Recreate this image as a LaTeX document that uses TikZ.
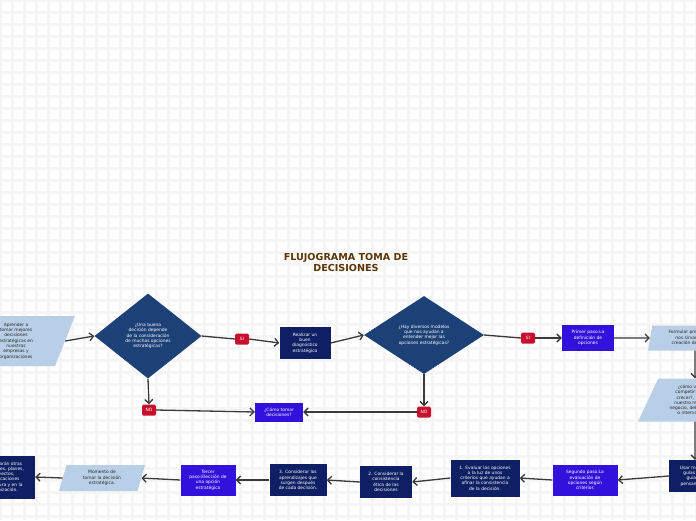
\documentclass[tikz,border=0pt]{standalone}
\usepackage{fontspec}
\setmainfont{DejaVu Sans}
\usetikzlibrary{shapes.geometric, arrows.meta, positioning}

\definecolor{navybox}{HTML}{0E2063}
\definecolor{violetbox}{HTML}{3311DD}
\definecolor{diamondblue}{HTML}{1B4177}
\definecolor{lightblue}{HTML}{B9CFE8}
\definecolor{badgered}{HTML}{C8102E}
\definecolor{titlebrown}{HTML}{5B3507}
\definecolor{linegray}{HTML}{3A3A3A}
\definecolor{gridgray}{HTML}{F5F5F5}

\newcommand\diagfont{\fontsize{4.4}{5.3}\selectfont}

\tikzset{
    pasobox/.style={rectangle, fill=navybox, text=white, align=center, inner sep=0pt, font=\diagfont},
    clavebox/.style={rectangle, fill=violetbox, text=white, align=center, inner sep=0pt, font=\diagfont},
    pregunta/.style={diamond, fill=diamondblue, text=white, align=center, inner sep=0pt, font=\diagfont},
    entrada/.style={trapezium, trapezium stretches body, fill=lightblue, text=black!85, align=center, inner sep=0pt, font=\diagfont},
    sino/.style={rectangle, rounded corners=1.5pt, fill=badgered, text=white, minimum width=14pt, minimum height=11pt, inner sep=0pt, font=\diagfont},
    flecha/.style={draw=linegray, line width=1.3pt, -{Straight Barb[length=4pt, width=8pt, line width=1.3pt]}},
    linea/.style={draw=linegray, line width=1.3pt},
    gridline/.style={draw=gridgray, line width=3pt}
}

\begin{document}
\begin{tikzpicture}[x=1pt, y=-1pt]
    \clip (0,0) rectangle (696,520);
    \fill[white] (0,0) rectangle (696,520);
    \foreach \gx in {0,12,...,696} \draw[gridline] (\gx,0) -- (\gx,520);
    \foreach \gy in {0,12,...,520} \draw[gridline] (0,\gy) -- (696,\gy);

    \node[font=\bfseries\fontsize{9.6}{11}\selectfont, text=titlebrown, align=center] (titulo) at (346,262) {FLUJOGRAMA TOMA DE\\DECISIONES};

    % fila superior
    \node[entrada, trapezium left angle=61, trapezium right angle=119, minimum width=118pt, minimum height=50pt] (aprender) at (16,341) {Aprender a\\tomar mejores\\decisiones\\estratégicas en\\nuestras\\empresas y\\organizaciones};
    \node[pregunta, minimum width=107pt, minimum height=85pt] (buena) at (148,336) {¿Una buena\\decisión depende\\de la consideración\\de muchas opciones\\estratégicas?};
    \node[sino] (si1) at (242,339) {SI};
    \node[pasobox, minimum width=51pt, minimum height=32pt] (diagnostico) at (305,343) {Realizar un\\buen\\diagnóstico\\estratégico};
    \node[pregunta, minimum width=120pt, minimum height=78pt] (modelos) at (424,335) {¿Hay diversos modelos\\que nos ayudan a\\entender mejor las\\opciones estratégicas?};
    \node[sino] (si2) at (528,338) {SI};
    \node[clavebox, minimum width=52pt, minimum height=26pt] (primer) at (588,338) {Primer paso:La\\definición de\\opciones};
    \node[entrada, trapezium left angle=74, trapezium right angle=106, minimum width=94pt, minimum height=25pt] (formular) at (695,338) {Formular preguntas que\\nos sirvan para la\\creación de opciones};
    \node[entrada, trapezium left angle=56, trapezium right angle=124, minimum width=114pt, minimum height=43pt] (competir) at (695,400) {¿cómo vamos a\\competir?, ¿cómo\\crecer?, ¿cuál es\\nuestro modelo de\\negocio, debe ser local\\o internacional?};

    % rama NO
    \node[sino] (no1) at (149,410) {NO};
    \node[sino] (no2) at (424,412) {NO};
    \node[clavebox, minimum width=48pt, minimum height=19pt] (comotomar) at (279,412) {¿Cómo tomar\\decisiones?};

    % fila inferior
    \node[pasobox, minimum width=52pt, minimum height=32pt] (usar) at (695,476) {Usar modelos\\guías para\\guiar el\\pensamiento};
    \node[clavebox, minimum width=65pt, minimum height=31pt] (segundo) at (585,480) {Segundo paso:La\\evaluación de\\opciones según\\criterios};
    \node[pasobox, minimum width=69pt, minimum height=37pt] (evaluar) at (485,478) {1. Evaluar las opciones\\a la luz de unos\\criterios que ayudan a\\afinar la consistencia\\de la decisión.};
    \node[pasobox, minimum width=52pt, minimum height=32pt] (etica) at (386,482) {2. Considerar la\\consistencia\\ética de las\\decisiones};
    \node[pasobox, minimum width=57pt, minimum height=32pt] (aprendizajes) at (298,480) {3. Considerar los\\aprendizajes que\\surgen después\\de cada decisión.};
    \node[clavebox, minimum width=55pt, minimum height=31pt] (tercer) at (208,480) {Tercer\\paso:Elección de\\una opción\\estratégica};
    \node[entrada, trapezium left angle=63, trapezium right angle=117, minimum width=86pt, minimum height=26pt] (momento) at (102,478) {Momento de\\tomar la decisión\\estratégica.};
    \node[pasobox, minimum width=64pt, minimum height=43pt] (otras) at (3,477) {Se tomarán otras\\decisiones, planes,\\proyectos,\\modificaciones\\estructura y en la\\organización.};

    % conectores
    \draw[flecha] (aprender.east) -- (buena.west);
    \draw[linea] (buena.east) -- (si1.west);
    \draw[flecha] (si1.east) -- (diagnostico.west);
    \draw[flecha] (diagnostico.east) -- (modelos.west);
    \draw[linea] (modelos.east) -- (si2.west);
    \draw[flecha] (si2.east) -- (primer.west);
    \draw[flecha] (primer.east) -- (formular.west);
    \draw[flecha] (formular.south) -- (competir.north);
    \draw[flecha] (competir.south) -- (usar.north);

    \draw[flecha] (buena.south) -- (no1.north);
    \draw[flecha] (no1.east) -- (comotomar.west);
    \draw[flecha] (modelos.south) -- (no2.north);
    \draw[flecha] (no2.west) -- (comotomar.east);

    \draw[flecha] (usar.west) -- (segundo.east);
    \draw[flecha] (segundo.west) -- (evaluar.east);
    \draw[flecha] (evaluar.west) -- (etica.east);
    \draw[flecha] (etica.west) -- (aprendizajes.east);
    \draw[flecha] (aprendizajes.west) -- (tercer.east);
    \draw[flecha] (tercer.west) -- (momento.east);
    \draw[flecha] (momento.west) -- (otras.east);
\end{tikzpicture}
\end{document}
